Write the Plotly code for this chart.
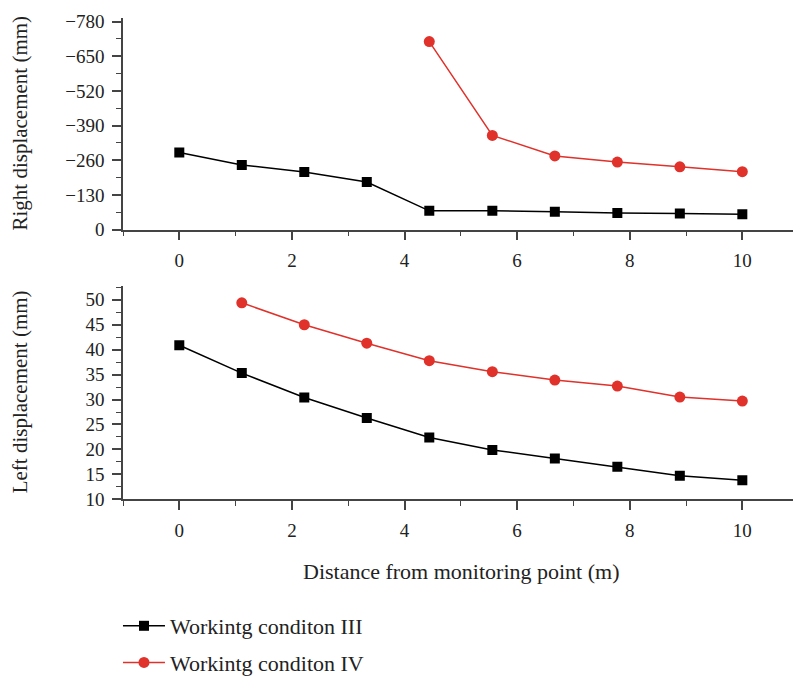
import plotly.graph_objects as go

# ---- data ----
distance = [0, 1.11, 2.22, 3.33, 4.44, 5.56, 6.67, 7.78, 8.89, 10]
right_III = [-289, -242, -216, -178, -70, -70, -67, -62, -60, -57]
right_IV_x = [4.44, 5.56, 6.67, 7.78, 8.89, 10]
right_IV = [-705, -353, -276, -253, -235, -217]
left_III = [40.9, 35.3, 30.4, 26.3, 22.4, 19.9, 18.2, 16.5, 14.7, 13.8]
left_IV_x = [1.11, 2.22, 3.33, 4.44, 5.56, 6.67, 7.78, 8.89, 10]
left_IV = [49.4, 45.0, 41.3, 37.8, 35.6, 33.9, 32.7, 30.5, 29.7]

name_III = "Workintg conditon III"
name_IV = "Workintg conditon IV"

W, H = 793, 684
L = 123
FONT = "Liberation Serif"
BLACK = "#000000"
RED = "#E0312A"
AXC = "#444444"
TXT = "#222222"

def py(px):
    return 1 - px / H

fig = go.Figure()

fig.add_trace(go.Scatter(x=distance, y=right_III, mode="lines+markers", name=name_III,
                         line=dict(color=BLACK, width=1.5),
                         marker=dict(symbol="square", size=10, color=BLACK),
                         xaxis="x", yaxis="y", legendgroup="a", showlegend=True))
fig.add_trace(go.Scatter(x=right_IV_x, y=right_IV, mode="lines+markers", name=name_IV,
                         line=dict(color=RED, width=1.5),
                         marker=dict(symbol="circle", size=11, color=RED),
                         xaxis="x", yaxis="y", legendgroup="b", showlegend=True))
fig.add_trace(go.Scatter(x=distance, y=left_III, mode="lines+markers", name=name_III,
                         line=dict(color=BLACK, width=1.5),
                         marker=dict(symbol="square", size=10, color=BLACK),
                         xaxis="x2", yaxis="y2", legendgroup="a", showlegend=False))
fig.add_trace(go.Scatter(x=left_IV_x, y=left_IV, mode="lines+markers", name=name_IV,
                         line=dict(color=RED, width=1.5),
                         marker=dict(symbol="circle", size=11, color=RED),
                         xaxis="x2", yaxis="y2", legendgroup="b", showlegend=False))

xcommon = dict(range=[-1, 10.9], dtick=2, tick0=0, showline=True, linecolor=AXC, linewidth=1.5,
               ticks="outside", ticklen=9, tickwidth=1.5, tickcolor=AXC,
               showgrid=False, zeroline=False,
               minor=dict(dtick=1, tick0=0, ticks="outside", ticklen=5, tickwidth=1.2, tickcolor=AXC),
               tickfont=dict(family=FONT, size=19, color=TXT), ticklabelstandoff=4)
ycommon = dict(showline=True, linecolor=AXC, linewidth=1.5,
               ticks="outside", ticklen=9, tickwidth=1.5, tickcolor=AXC,
               showgrid=False, zeroline=False,
               tickfont=dict(family=FONT, size=19, color=TXT), ticklabelstandoff=4)

fig.update_layout(
    width=W, height=H,
    margin=dict(l=L, r=0, t=0, b=0),
    plot_bgcolor="white", paper_bgcolor="white",
    xaxis=dict(**xcommon, domain=[0, 1], anchor="y"),
    yaxis=dict(**ycommon, domain=[py(232), py(12)], anchor="x",
               range=[0, -795], dtick=130, tick0=0,
               minor=dict(dtick=65, tick0=0, ticks="outside", ticklen=5, tickwidth=1.2, tickcolor=AXC)),
    xaxis2=dict(**xcommon, domain=[0, 1], anchor="y2"),
    yaxis2=dict(**ycommon, domain=[py(512), py(291)], anchor="x2",
                range=[10, 52.7], dtick=5, tick0=10,
                minor=dict(dtick=2.5, tick0=10, ticks="outside", ticklen=5, tickwidth=1.2, tickcolor=AXC)),
    legend=dict(x=-0.0075, xanchor="left", y=py(622), yanchor="top",
                font=dict(family=FONT, size=22, color=TXT),
                tracegroupgap=5, itemwidth=42, bgcolor="rgba(0,0,0,0)"),
    showlegend=True,
)

fig.add_annotation(text="Right displacement (mm)", textangle=-90, xref="paper", yref="paper",
                   x=(20 - L) / (W - L), y=py(122), showarrow=False,
                   font=dict(family=FONT, size=21, color=TXT), xanchor="center", yanchor="middle")
fig.add_annotation(text="Left displacement (mm)", textangle=-90, xref="paper", yref="paper",
                   x=(20 - L) / (W - L), y=py(401), showarrow=False,
                   font=dict(family=FONT, size=21, color=TXT), xanchor="center", yanchor="middle")
fig.add_annotation(text="Distance from monitoring point (m)", xref="paper", yref="paper",
                   x=(462 - L) / (W - L), y=py(587), showarrow=False,
                   font=dict(family=FONT, size=22, color=TXT), xanchor="center", yanchor="middle")

fig.write_html("out.html")
